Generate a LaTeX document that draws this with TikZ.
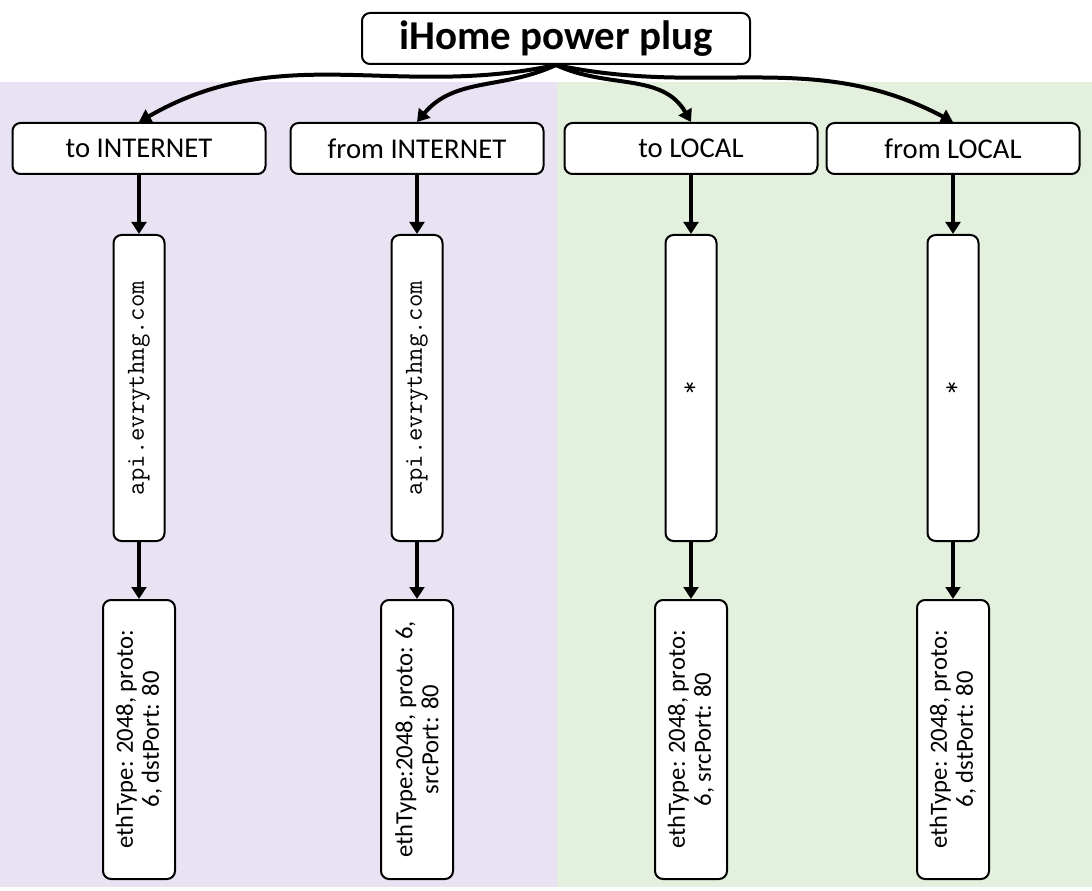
\documentclass[tikz,border=0pt]{standalone}
\usepackage{fontspec}
\setmainfont{Carlito}
\usetikzlibrary{arrows.meta}
\definecolor{bgpurple}{RGB}{233,226,243}
\definecolor{bggreen}{RGB}{228,240,222}
\begin{document}
\begin{tikzpicture}[x=0.75pt,y=0.75pt,
 box/.style={draw=black, line width=1.5pt, fill=white, rounded corners=6pt, inner sep=0pt},
 titlebox/.style={box, minimum width=291pt, minimum height=38.25pt, font=\fontsize{30.75}{36}\selectfont\bfseries},
 dirbox/.style={box, minimum width=189.75pt, minimum height=38.25pt, font=\fontsize{21.5}{26}\selectfont},
 hostbox/.style={box, rotate=90, minimum width=229.5pt, minimum height=38.25pt, font=\fontsize{19.5}{22}\selectfont\ttfamily},
 matchbox/.style={box, rotate=90, minimum width=209.25pt, minimum height=54pt, align=center, font=\fontsize{18.5}{19.5}\selectfont},
 arr/.style={line width=3pt, -{Triangle[length=9pt,width=11pt]}}
]
\useasboundingbox (0,0) rectangle (1092,890);
\fill[white] (0,0) rectangle (1092,890);
\fill[bgpurple] (0,3) rectangle (557,808);
\fill[bggreen] (557,3) rectangle (1092,808);

\node[titlebox] (title) at (556,851.5) {iHome power plug};

\node[dirbox] (toi) at (139,741.5) {to INTERNET};
\node[dirbox] (fromi) at (417,741.5) {from INTERNET};
\node[dirbox] (tol) at (691,741.5) {to LOCAL};
\node[dirbox] (froml) at (953,741.5) {from LOCAL};

\node[hostbox] (h1) at (139,502) {api.evrythng.com};
\node[hostbox] (h2) at (417,502) {api.evrythng.com};
\node[hostbox] (h3) at (691,502) {*};
\node[hostbox] (h4) at (953,502) {*};

\node[matchbox] (m1) at (139,150.5) {ethType: 2048, proto:\\6, dstPort: 80};
\node[matchbox] (m2) at (417,150.5) {ethType:2048, proto: 6,\\srcPort: 80};
\node[matchbox] (m3) at (691,150.5) {ethType: 2048, proto:\\6, srcPort: 80};
\node[matchbox] (m4) at (953,150.5) {ethType: 2048, proto:\\6, dstPort: 80};

\draw[arr] (title.south) to[out=192,in=30] (toi.north);
\draw[arr] (title.south) to[out=205,in=50] (fromi.north);
\draw[arr] (title.south) to[out=335,in=120] (tol.north);
\draw[arr] (title.south) to[out=348,in=152] (froml.north);

\foreach \a/\b in {toi/h1,fromi/h2,tol/h3,froml/h4,h1/m1,h2/m2,h3/m3,h4/m4}
  \draw[arr] (\a) -- (\b);
\end{tikzpicture}
\end{document}
